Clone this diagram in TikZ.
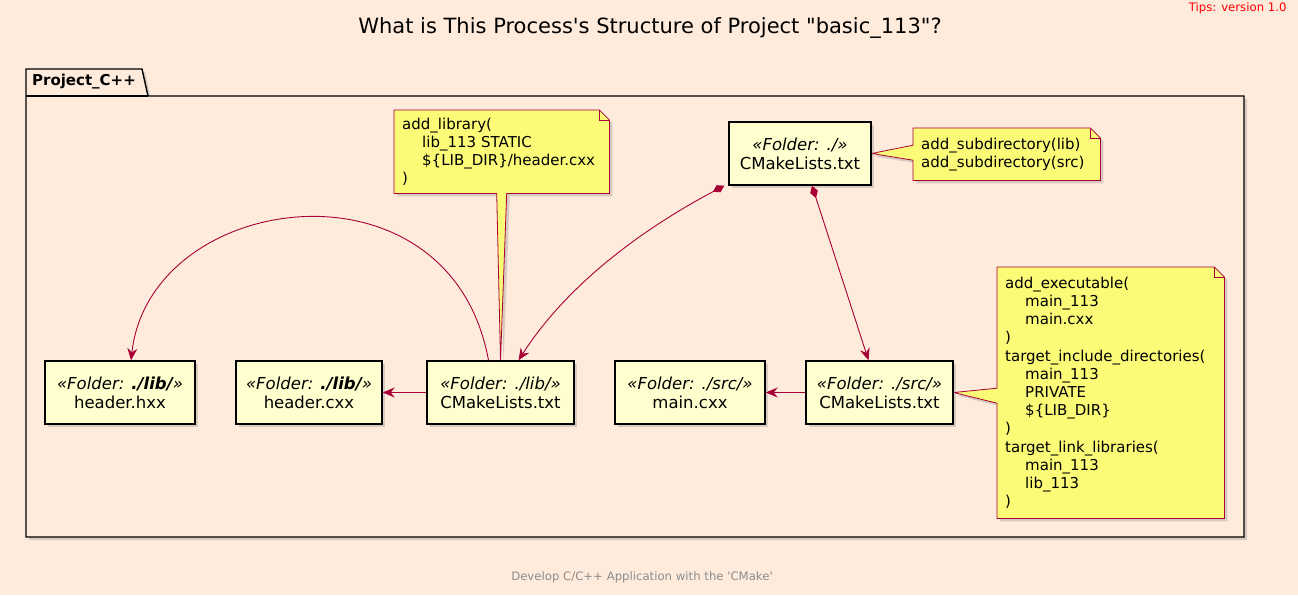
\documentclass[tikz,border=0pt]{standalone}
\usepackage{fontspec}
\setmainfont{DejaVu Sans}[Ligatures=TeXOff]
\usetikzlibrary{arrows.meta,shadows,backgrounds}
\definecolor{UMLBack}{HTML}{FEEBDC}
\definecolor{UMLBox}{HTML}{FEFECE}
\definecolor{UMLNote}{HTML}{FBFB77}
\definecolor{UMLRed}{HTML}{A80036}
\definecolor{UMLGray}{HTML}{8C8C8C}

\begin{document}
\begin{tikzpicture}[x=1pt,y=-1pt,
    umlshadow/.style={drop shadow={shadow xshift=3pt,shadow yshift=-3pt,opacity=0.3}},
    folder/.style={draw=black,line width=1.4pt,fill=UMLBox,minimum height=63pt,
      align=center,inner sep=0pt,font=\fontsize{16.5}{19}\selectfont,umlshadow},
    notetext/.style={anchor=north west,inner xsep=8pt,inner ysep=0pt,align=left,
      font=\fontsize{15}{18.2}\selectfont},
    noteline/.style={draw=UMLRed,line width=0.8pt,fill=UMLNote,umlshadow},
    notefold/.style={draw=UMLRed,line width=0.8pt},
    link/.style={draw=UMLRed,line width=0.9pt,
      -{Stealth[length=12pt,width=10pt,inset=4pt]}},
    owns/.style={link,{Diamond[length=13pt,width=8pt]}-{Stealth[length=12pt,width=10pt,inset=4pt]}},
  ]
  \useasboundingbox (0,0) rectangle (1298,595);

  % package label, title, tips and footer
  \node[font=\bfseries\fontsize{15}{17}\selectfont] (pkg) at (84,82) {Project\_C++};
  \node[font=\fontsize{21}{24}\selectfont] (title) at (650,28)
    {What is This Process's Structure of Project "basic\_113"?};
  \node[anchor=north east,text=red,font=\fontsize{11.7}{13}\selectfont] (tips)
    at (1290,-1) {Tips: version 1.0};
  \node[text=UMLGray,font=\fontsize{11.7}{13}\selectfont] (foot) at (642,577)
    {Develop C/C++ Application with the 'CMake'};

  % files
  \node[folder,minimum width=142pt] (root) at (800,153.5)
    {{\itshape «Folder: ./»}\\CMakeLists.txt};
  \node[folder,minimum width=150pt] (hxx) at (120,392.5)
    {{\itshape «Folder: \textbf{./lib/}»}\\header.hxx};
  \node[folder,minimum width=146pt] (cxx) at (309,392.5)
    {{\itshape «Folder: \textbf{./lib/}»}\\header.cxx};
  \node[folder,minimum width=147pt] (clib) at (500.5,392.5)
    {{\itshape «Folder: ./lib/»}\\CMakeLists.txt};
  \node[folder,minimum width=150pt] (main) at (690,392.5)
    {{\itshape «Folder: ./src/»}\\main.cxx};
  \node[folder,minimum width=147pt] (csrc) at (879.5,392.5)
    {{\itshape «Folder: ./src/»}\\CMakeLists.txt};

  % notes
  \node[notetext,minimum width=215pt,minimum height=83pt,text width=199pt] (nlib)
    at (394,110) {add\_library(\\
      \hspace*{20pt}lib\_113 STATIC\\
      \hspace*{20pt}\$\{LIB\_DIR\}/header.cxx\\
      )};
  \node[notetext,minimum width=187pt,minimum height=52pt,text width=171pt] (nsub)
    at (913,128) {add\_subdirectory(lib)\\add\_subdirectory(src)};
  \node[notetext,minimum width=227pt,minimum height=251pt,text width=211pt] (nexe)
    at (997,267) {add\_executable(\\
      \hspace*{20pt}main\_113\\
      \hspace*{20pt}main.cxx\\
      )\\
      target\_include\_directories(\\
      \hspace*{20pt}main\_113\\
      \hspace*{20pt}PRIVATE\\
      \hspace*{20pt}\$\{LIB\_DIR\}\\
      )\\
      target\_link\_libraries(\\
      \hspace*{20pt}main\_113\\
      \hspace*{20pt}lib\_113\\
      )};

  \begin{scope}[on background layer]
    \fill[UMLBack] (0,0) rectangle (1298,595);
    % package frame
    \draw[line width=1.4pt,fill=UMLBack,umlshadow]
      (26,96) -- (26,69) -- (142,69) -- (148,96) -- (1244,96) -- (1244,537)
      -- (26,537) -- cycle;
    \draw[line width=1.4pt] (26,96) -- (148,96);
    \path[noteline] (nlib.north west) -- ([xshift=-10pt]nlib.north east)
      -- ([yshift=-10pt]nlib.north east) -- (nlib.south east)
      -- ([xshift=5pt]nlib.south) -- (clib.north) -- ([xshift=-5pt]nlib.south)
      -- (nlib.south west) -- cycle;
    \path[noteline] (nsub.north west) -- ([xshift=-10pt]nsub.north east)
      -- ([yshift=-10pt]nsub.north east) -- (nsub.south east)
      -- (nsub.south west) -- ([yshift=-6pt]nsub.west) -- (root.east)
      -- ([yshift=9pt]nsub.west) -- cycle;
    \path[noteline] (nexe.north west) -- ([xshift=-10pt]nexe.north east)
      -- ([yshift=-10pt]nexe.north east) -- (nexe.south east)
      -- (nexe.south west) -- ([yshift=-10.5pt]nexe.west) -- (csrc.east)
      -- ([yshift=4.5pt]nexe.west) -- cycle;
    \draw[notefold] ([xshift=-10pt]nlib.north east) -- ++(0pt,-10pt) -- ++(10pt,0pt);
    \draw[notefold] ([xshift=-10pt]nsub.north east) -- ++(0pt,-10pt) -- ++(10pt,0pt);
    \draw[notefold] ([xshift=-10pt]nexe.north east) -- ++(0pt,-10pt) -- ++(10pt,0pt);
  \end{scope}

  % links
  \draw[link] (clib.west) -- (cxx.east);
  \draw[link] (csrc.west) -- (main.east);
  \draw[link] ([xshift=-12pt]clib.north) .. controls (450,150) and (150,190)
    .. ([xshift=11pt]hxx.north);
  \draw[owns] ([xshift=-4pt]root.south west) .. controls (650,225) and (570,280)
    .. ([xshift=18pt]clib.north);
  \draw[owns] ([xshift=12pt]root.south) -- ([xshift=-11pt]csrc.north);
\end{tikzpicture}
\end{document}
